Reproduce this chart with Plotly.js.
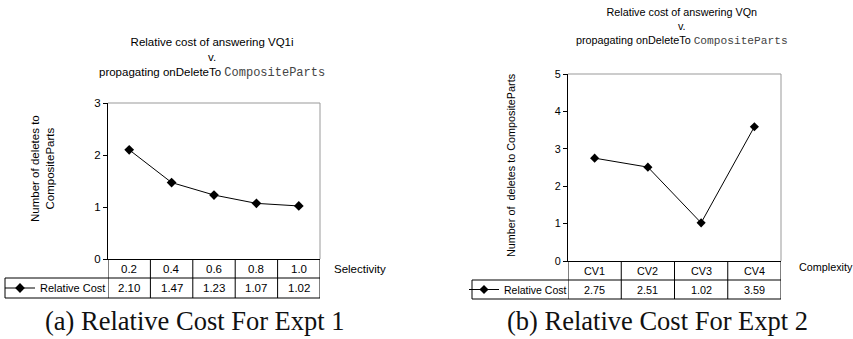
<!DOCTYPE html>
<html><head><meta charset="utf-8">
<script src="https://cdn.plot.ly/plotly-3.0.1.min.js"></script>
<style>html,body{margin:0;padding:0;background:#fff}</style>
</head><body><div id="chart" style="width:853px;height:339px"></div>
<script>
// ---- data ----
const selectivity = ['0.2', '0.4', '0.6', '0.8', '1.0'];
const costExpt1 = [2.10, 1.47, 1.23, 1.07, 1.02];
const complexity = ['CV1', 'CV2', 'CV3', 'CV4'];
const costExpt2 = [2.75, 2.51, 1.02, 3.59];
const seriesName = 'Relative Cost';
const yTicks1 = [0, 1, 2, 3];
const yTicks2 = [0, 1, 2, 3, 4, 5];
const title1 = 'Relative cost of answering VQ1i';
const title2 = 'Relative cost of answering VQn';
const titleTail = 'propagating onDeleteTo ';
const titleMono = 'CompositeParts';
const yTitle1 = 'Number of deletes to<br>CompositeParts';
const yTitle2 = 'Number of  deletes to CompositeParts';
const xTitle1 = 'Selectivity';
const xTitle2 = 'Complexity';
const caption1 = '(a) Relative Cost For Expt 1';
const caption2 = '(b) Relative Cost For Expt 2';

// ---- geometry (pixels) ----
const W = 853, H = 339;
const px = v => v / W, py = v => 1 - v / H;
const SANS = 'Liberation Sans, Arial, sans-serif';
const A = {xa:'x', ya:'y', l:108, r:320, t:103, b:259, row1:278, row2:298, cellL:5, font:11.5, mono:12,
  title:[212, 57.5], ytitle:[42, 169], xlab:[332, 269], legX:0, legFont:11, caption:[195, 321]};
const B = {xa:'x2', ya:'y2', l:568, r:781, t:74, b:261, row1:280, row2:299, cellL:472, font:10.8, mono:11.2,
  title:[682, 26.5], ytitle:[511, 165], xlab:[797, 267], legX:464, legFont:10.5, caption:[657, 321]};

function font(sz, fam, col) { return {family: fam || SANS, size: sz, color: col || '#000'}; }

function tableShapes(g, n) {
  const s = [];
  const ln = (xref, x0, x1, y0, y1, color) => ({type:'line', xref, yref:'paper', x0, x1,
    y0: py(y0), y1: py(y1), line:{color: color || '#000', width: 1}});
  for (let i = 0; i <= n; i++) s.push(ln(g.xa, i - 0.5, i - 0.5, g.b, g.row2));
  s.push(ln('paper', px(g.cellL), px(g.cellL), g.row1, g.row2));
  s.push(ln('paper', px(g.cellL), px(g.r), g.row1, g.row1));
  s.push(ln('paper', px(g.cellL), px(g.r), g.row2, g.row2));
  // plot frame top & right (grey)
  s.push({type:'line', xref: g.xa + ' domain', yref: g.ya + ' domain', x0:0, x1:1, y0:1, y1:1, line:{color:'#999', width:1}});
  s.push({type:'line', xref: g.xa + ' domain', yref: g.ya + ' domain', x0:1, x1:1, y0:0, y1:1, line:{color:'#999', width:1}});
  return s;
}

function tableAnnotations(g, cats, vals, titleTop, yTitle, xTitle, caption) {
  const a = [];
  const r1 = (g.b + g.row1) / 2, r2 = (g.row1 + g.row2) / 2;
  const cell = (i, y, text) => ({xref: g.xa, yref:'paper', x: i, y: py(y), xanchor:'center', yanchor:'middle',
    text, showarrow:false, font: font(g.font)});
  cats.forEach((c, i) => {
    a.push(cell(i, r1, c));
    a.push(cell(i, r2, vals[i].toFixed(2)));
  });
  a.push({xref:'paper', yref:'paper', x: px(g.title[0]), y: py(g.title[1]), xanchor:'center', yanchor:'middle',
    showarrow:false, font: font(g.font),
    text: titleTop + '<br>v.<br>' + titleTail + '<span style="font-family:Liberation Mono, Courier New, monospace;font-size:' + g.mono + 'px;fill:#444">' + titleMono + '</span>'});
  a.push({xref:'paper', yref:'paper', x: px(g.ytitle[0]), y: py(g.ytitle[1]), xanchor:'center', yanchor:'middle',
    textangle: -90, showarrow:false, font: font(g.font), text: yTitle});
  a.push({xref:'paper', yref:'paper', x: px(g.xlab[0]), y: py(g.xlab[1]), xanchor:'left', yanchor:'middle',
    showarrow:false, font: font(g.font), text: xTitle});
  a.push({xref:'paper', yref:'paper', x: px(g.caption[0]), y: py(g.caption[1]), xanchor:'center', yanchor:'middle',
    showarrow:false, font: font(26.5, 'Liberation Serif, Times New Roman, serif', '#111'), text: caption});
  return a;
}

function xAxis(g, n) {
  return {domain:[px(g.l), px(g.r)], anchor: g.ya, type:'category', range:[-0.5, n - 0.5],
    showline:true, linecolor:'#000', linewidth:1, ticks:'', showticklabels:false, showgrid:false, zeroline:false, fixedrange:true};
}
function yAxis(g, ticks) {
  return {domain:[py(g.b), py(g.t)], anchor: g.xa, range:[ticks[0], ticks[ticks.length - 1]],
    tickvals: ticks, ticktext: ticks.map(String), showline:true, linecolor:'#000', linewidth:1,
    ticks:'outside', ticklen:4, tickcolor:'#000', tickfont: font(g.font), showgrid:false, zeroline:false, fixedrange:true};
}

const traces = [
  {type:'scatter', mode:'lines+markers', name: seriesName, x: selectivity, y: costExpt1, xaxis:'x', yaxis:'y',
    line:{color:'#000', width:1}, marker:{symbol:'diamond', size:7.5, color:'#000'}, legend:'legend', cliponaxis:false},
  {type:'scatter', mode:'lines+markers', name: seriesName, x: complexity, y: costExpt2, xaxis:'x2', yaxis:'y2',
    line:{color:'#000', width:1}, marker:{symbol:'diamond', size:7, color:'#000'}, legend:'legend2', cliponaxis:false}
];

const legendBase = (g) => ({x: px(g.legX), xanchor:'left', y: py((g.row1 + g.row2) / 2), yanchor:'middle',
  bgcolor:'rgba(0,0,0,0)', borderwidth:0, itemwidth:30, font: font(g.legFont)});

const layout = {
  width: W, height: H, margin:{l:0, r:0, t:0, b:0, pad:0},
  paper_bgcolor:'#fff', plot_bgcolor:'#fff', showlegend:true,
  xaxis: Object.assign(xAxis(A, selectivity.length), {categoryarray: selectivity, categoryorder:'array'}),
  yaxis: yAxis(A, yTicks1),
  xaxis2: Object.assign(xAxis(B, complexity.length), {categoryarray: complexity, categoryorder:'array'}),
  yaxis2: yAxis(B, yTicks2),
  legend: legendBase(A), legend2: legendBase(B),
  shapes: tableShapes(A, selectivity.length).concat(tableShapes(B, complexity.length)),
  annotations: tableAnnotations(A, selectivity, costExpt1, title1, yTitle1, xTitle1, caption1)
    .concat(tableAnnotations(B, complexity, costExpt2, title2, yTitle2, xTitle2, caption2))
};

Plotly.newPlot('chart', traces, layout, {displayModeBar:false, staticPlot:true});
</script></body></html>
